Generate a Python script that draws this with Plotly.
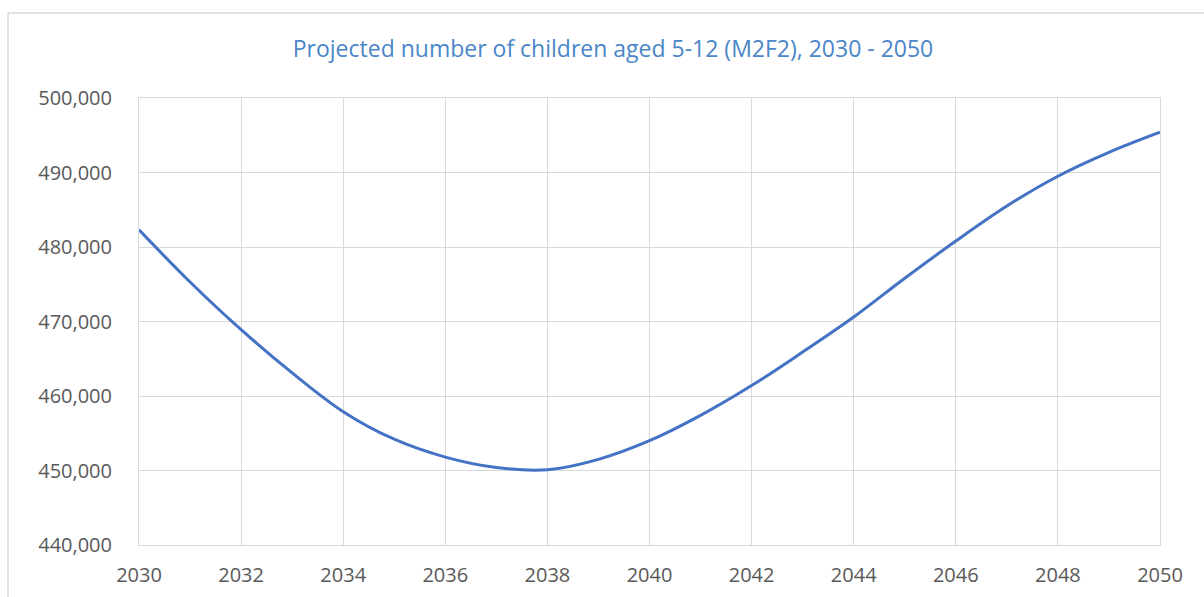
import plotly.graph_objects as go

years = list(range(2030, 2051))
children = [482300, 475300, 468900, 463100, 457900, 454200, 451800, 450400, 450100,
            451500, 454000, 457400, 461400, 465900, 470600, 475800, 480800, 485500,
            489500, 492700, 495400]
x_ticks = list(range(2030, 2051, 2))
y_ticks = list(range(440000, 500001, 10000))

W, H = 1204, 597
L, R, T, B = 139, 44, 98, 52
pw, ph = W - L - R, H - T - B

fig = go.Figure()
fig.add_trace(go.Scatter(
    x=years, y=children, mode="lines",
    line=dict(color="#4472C4", width=3, shape="spline", smoothing=1.0),
    showlegend=False, hoverinfo="x+y"))

def px_to_paper_x(px):
    return (px - L) / pw

def px_to_paper_y(py):
    return (H - B - py) / ph

tick_font = dict(family="Open Sans", size=20, color="#595959")

fig.update_layout(
    width=W, height=H,
    margin=dict(l=L, r=R, t=T, b=B, autoexpand=False),
    paper_bgcolor="white", plot_bgcolor="white",
    title=dict(text="Projected number of children aged 5-12 (M2F2), 2030 - 2050",
               x=613 / W, xref="container", xanchor="center",
               y=1 - 49 / H, yanchor="middle",
               font=dict(family="Open Sans", size=23, color="#4A86C8")),
    xaxis=dict(range=[2030, 2050], tickvals=x_ticks, ticktext=[str(t) for t in x_ticks],
               showgrid=True, gridcolor="#D9D9D9", gridwidth=1, automargin=False,
               showline=True, linecolor="#D9D9D9", mirror=True, zeroline=False,
               ticks="", ticklabelstandoff=12, tickfont=tick_font),
    yaxis=dict(range=[440000, 500000], tickvals=y_ticks,
               ticktext=[f"{v:,}" for v in y_ticks], automargin=False,
               showgrid=True, gridcolor="#D9D9D9", gridwidth=1,
               showline=True, linecolor="#D9D9D9", mirror=True, zeroline=False,
               ticks="", ticklabelstandoff=22, tickfont=tick_font),
    shapes=[
        dict(type="line", xref="paper", yref="paper",
             x0=px_to_paper_x(8), x1=px_to_paper_x(1210),
             y0=px_to_paper_y(13), y1=px_to_paper_y(13),
             line=dict(color="#D9D9D9", width=1.5)),
        dict(type="line", xref="paper", yref="paper",
             x0=px_to_paper_x(8), x1=px_to_paper_x(8),
             y0=px_to_paper_y(13), y1=px_to_paper_y(600),
             line=dict(color="#D9D9D9", width=1.5)),
    ],
)
fig.write_html("out.html")
